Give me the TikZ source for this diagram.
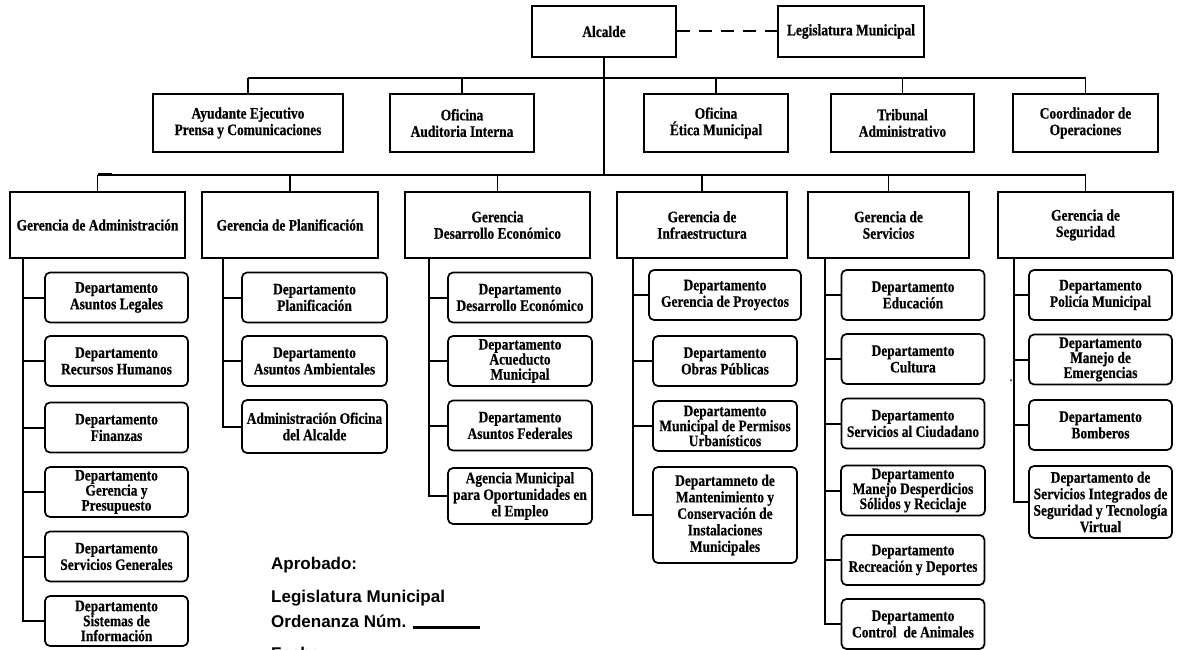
\documentclass[tikz,border=0pt]{standalone}
\usepackage{fontspec}
\setmainfont{Liberation Serif}[FakeStretch=0.84,BoldFeatures={FakeBold=0.5}]
\newfontfamily\notefont{Liberation Sans}
\usetikzlibrary{calc}

\begin{document}
\begin{tikzpicture}[
	x=1pt,y=-1pt,
	boss/.style={draw=black,line width=2.8pt,inner sep=0pt,align=center,minimum height=51pt,font=\fontsize{16}{16.5}\selectfont\bfseries},
	unit/.style={boss,minimum height=58pt},
	ger/.style={boss,minimum height=66pt},
	dept/.style={draw=black,line width=1.7pt,rounded corners=5pt,inner sep=0pt,align=center,minimum width=143pt,minimum height=50pt,font=\fontsize{16}{16.5}\selectfont\bfseries},
	tight/.style={font=\fontsize{16}{15}\selectfont\bfseries},
	link/.style={draw=black,line width=1.5pt},
	spine/.style={draw=black,line width=2pt},
	note/.style={anchor=base west,inner sep=0pt,font=\notefont\bfseries\fontsize{17}{20}\selectfont}]
	\useasboundingbox (0,0) rectangle (1181,650);
	\node[boss,minimum width=144pt] (alcalde) at (604,31.5) {Alcalde};
	\node[boss,minimum width=146pt] (legis) at (851,31.5) {Legislatura Municipal};
	\draw[draw=black,line width=2pt,dash pattern=on 13pt off 9pt] (alcalde.east) -- (legis.west);
	\node[unit,minimum width=190pt] (ayud) at (248,123) {Ayudante Ejecutivo\\Prensa y Comunicaciones};
	\node[unit,minimum width=144pt] (audit) at (462,123) {Oficina\\Auditoria Interna};
	\node[unit,minimum width=144pt] (etica) at (716,123) {Oficina\\Ética Municipal};
	\node[unit,minimum width=143pt] (tribunal) at (902.5,123) {Tribunal\\Administrativo};
	\node[unit,minimum width=145pt] (coord) at (1085.5,123) {Coordinador de\\Operaciones};
	\coordinate (busTwo) at (604,78);
	\coordinate (busThree) at (604,175);
	\draw[link] (ayud.north |- busTwo) -- (coord.north |- busTwo);
	\foreach \n in {ayud,audit,etica,tribunal,coord}
	\draw[link] (\n.north) -- (\n.north |- busTwo);
	\draw[link] (alcalde.south) -- (alcalde.south |- busThree);
	\node[ger,minimum width=175pt] (gadm) at (97.5,225) {Gerencia de Administración};
	\node[ger,minimum width=176pt] (gplan) at (290,225) {Gerencia de Planificación};
	\node[ger,minimum width=185pt] (gdes) at (497.5,225) {Gerencia\\Desarrollo Económico};
	\node[ger,minimum width=170pt] (ginf) at (702,225) {Gerencia de\\Infraestructura};
	\node[ger,minimum width=161pt] (gserv) at (888.5,225) {Gerencia de\\Servicios};
	\node[ger,minimum width=175pt] (gseg) at (1085.5,225) {Gerencia de\\Seguridad};
	\draw[link] (gadm.north |- busThree) -- (gseg.north |- busThree);
	\draw[line width=3pt] (gadm.north |- busThree) -- ++(14,0);
	\foreach \n in {gadm,gplan,gdes,ginf,gserv,gseg}
	\draw[link] (\n.north) -- (\n.north |- busThree);
	\node[dept] (a1) at (116.5,297.5) {Departamento\\Asuntos Legales};
	\node[dept] (a2) at (116.5,361) {Departamento\\Recursos Humanos};
	\node[dept] (a3) at (116.5,427.5) {Departamento\\Finanzas};
	\node[dept,tight] (a4) at (116.5,492) {Departamento\\Gerencia y\\Presupuesto};
	\node[dept] (a5) at (116.5,556.5) {Departamento\\Servicios Generales};
	\node[dept,tight] (a6) at (116.5,621) {Departamento\\Sistemas de\\Información};
	\node[dept,minimum width=145pt] (p1) at (314.5,297.5) {Departamento\\Planificación};
	\node[dept,minimum width=145pt] (p2) at (314.5,361) {Departamento\\Asuntos Ambientales};
	\node[dept,minimum width=145pt,minimum height=53pt] (p3) at (314.5,426.5) {Administración Oficina\\del Alcalde};
	\node[dept,minimum width=144pt] (d1) at (520,297.5) {Departamento\\Desarrollo Económico};
	\node[dept,tight,minimum width=144pt] (d2) at (520,361) {Departamento\\Acueducto\\Municipal};
	\node[dept,minimum width=144pt] (d3) at (520,425.5) {Departamento\\Asuntos Federales};
	\node[dept,minimum width=144pt,minimum height=56pt] (d4) at (520,496) {Agencia Municipal\\para Oportunidades en\\el Empleo};
	\node[dept,minimum width=152pt] (i1) at (725,295) {Departamento\\Gerencia de Proyectos};
	\node[dept,minimum width=144pt] (i2) at (725,361) {Departamento\\Obras Públicas};
	\node[dept,tight,minimum width=144pt] (i3) at (725,426) {Departamento\\Municipal de Permisos\\Urbanísticos};
	\node[dept,minimum width=144pt,minimum height=96pt] (i4) at (725,515) {Departamneto de\\Mantenimiento y\\Conservación de\\Instalaciones\\Municipales};
	\node[dept] (s1) at (913,295) {Departamento\\Educación};
	\node[dept] (s2) at (913,359) {Departamento\\Cultura};
	\node[dept] (s3) at (913,423.5) {Departamento\\Servicios al Ciudadano};
	\node[dept,tight,minimum width=144pt] (s4) at (913,490.5) {Departamento\\Manejo Desperdicios\\Sólidos y Reciclaje};
	\node[dept] (s5) at (913,560) {Departamento\\Recreación y Deportes};
	\node[dept] (s6) at (913,624) {Departamento\\Control\ \ de Animales};
	\node[dept] (g1) at (1100.5,295) {Departamento\\Policía Municipal};
	\node[dept,tight] (g2) at (1100.5,359.5) {Departamento\\Manejo de\\Emergencias};
	\node[dept] (g3) at (1100.5,425) {Departamento\\Bomberos};
	\node[dept,minimum height=72pt] (g4) at (1100.5,502) {Departamento de\\Servicios Integrados de\\Seguridad y Tecnología\\Virtual};
	\coordinate (sA) at (23,258);
	\coordinate (sP) at (223,258);
	\coordinate (sD) at (429,258);
	\coordinate (sI) at (633,258);
	\coordinate (sS) at (824.5,258);
	\coordinate (sG) at (1014,258);
	\draw[spine] (sA) |- (a6.west);
	\foreach \i in {1,...,5} \draw[spine] (a\i.west) -- (a\i.west -| sA);
	\draw[spine] (sP) |- (p3.west);
	\foreach \i in {1,2} \draw[spine] (p\i.west) -- (p\i.west -| sP);
	\draw[spine] (sD) |- (d4.west);
	\foreach \i in {1,2,3} \draw[spine] (d\i.west) -- (d\i.west -| sD);
	\draw[spine] (sI) |- (i4.west);
	\foreach \i in {1,2,3} \draw[spine] (i\i.west) -- (i\i.west -| sI);
	\draw[spine] (sS) |- (s6.west);
	\foreach \i in {1,...,5} \draw[spine] (s\i.west) -- (s\i.west -| sS);
	\draw[spine] (sG) |- (g4.west);
	\foreach \i in {1,2,3} \draw[spine] (g\i.west) -- (g\i.west -| sG);
	\node[anchor=base,inner sep=0pt,font=\bfseries] (dot) at (1011,381) {.};
	\node[note] (aprob) at (271,569) {Aprobado:};
	\node[note] (legnote) at (271,602) {Legislatura Municipal};
	\node[note] (orden) at (271,627) {Ordenanza Núm. \rule[-1.5pt]{67pt}{2.6pt}};
	\node[note] (fecha) at (271,659) {Fecha:};
\end{tikzpicture}
\end{document}
